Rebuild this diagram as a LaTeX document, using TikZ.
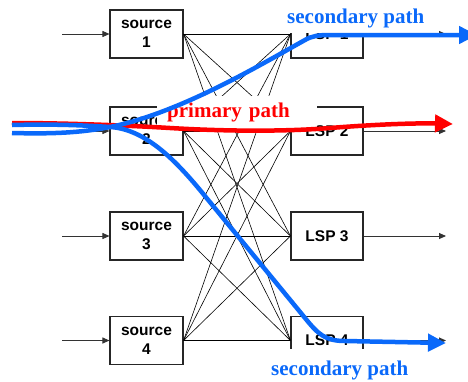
\documentclass[tikz,border=0pt]{standalone}
\usepackage{fontspec}
\setmainfont{Liberation Serif}
\setsansfont{Liberation Sans}
\usetikzlibrary{arrows.meta}
\definecolor{pathblue}{RGB}{10,105,250}
\definecolor{pathred}{RGB}{255,0,0}
\tikzset{
  stagebox/.style={draw=black!85, line width=1.1pt, fill=white, minimum width=73pt, minimum height=48pt, inner sep=0pt, align=center, font=\sffamily\bfseries\fontsize{15.5}{19}\selectfont},
  meshline/.style={draw=black, line width=0.6pt},
  ioarrow/.style={draw=black!80, line width=0.9pt, -{Triangle[length=7pt,width=6pt]}},
  pathlabel/.style={fill=white, font=\bfseries\fontsize{21}{25}\selectfont, text height=14.5pt, text depth=4.5pt, inner xsep=3pt},
  bluepath/.style={draw=pathblue, line width=4.5pt, -{Triangle[length=18pt,width=17pt]}},
  redpath/.style={draw=pathred, line width=4.5pt, -{Triangle[length=18pt,width=17pt]}},
}
\begin{document}
\begin{tikzpicture}[x=1pt,y=-1pt]
\clip (0,0) rectangle (468,381);
\fill[white] (0,0) rectangle (468,381);
% boxes
\node[stagebox] (src1) at (146.5,34) {source\\1};
\node[stagebox] (src2) at (146.5,131) {source\\2};
\node[stagebox] (src3) at (146.5,236) {source\\3};
\node[stagebox] (src4) at (146.5,340.5) {source\\4};
\node[stagebox, minimum width=72pt] (lsp1) at (327,34) {LSP 1};
\node[stagebox, minimum width=72pt] (lsp2) at (327,131) {LSP 2};
\node[stagebox, minimum width=72pt] (lsp3) at (327,236) {LSP 3};
\node[stagebox, minimum width=72pt] (lsp4) at (327,340.5) {LSP 4};
% mesh
\foreach \i in {1,2,3,4}{
  \foreach \j in {1,2,3,4}{
    \draw[meshline] (src\i.east) -- (lsp\j.west);
  }
}
% inputs and outputs
\foreach \i/\y in {1/34,2/131,3/236,4/340.5}{
  \coordinate (in\i) at (62,\y);
  \coordinate (out\i) at (446,\y);
  \draw[ioarrow] (in\i) -- (src\i.west);
  \draw[ioarrow] (lsp\i.east) -- (out\i);
}
% labels
\node[pathlabel, text=pathblue, anchor=base west, inner ysep=5pt] (lsec1) at (284,23) {secondary path};
\node[pathlabel, text=pathred, anchor=base west, inner xsep=10pt, inner ysep=7pt, text width=140pt, align=left] (lprim) at (157,117) {primary path};
\node[pathlabel, text=pathblue, anchor=base west, inner ysep=12pt] (lsec2) at (268,375) {secondary path};
% coloured paths
\coordinate (rs) at (12,123);
\coordinate (re) at (453,124);
\coordinate (bs1) at (12,133);
\coordinate (be1) at (477,35);
\coordinate (bs2) at (12,125);
\coordinate (be2) at (446,343);
\draw[redpath] (rs) .. controls (60,123) and (120,125) .. (170,128)
  .. controls (220,131) and (280,132) .. (330,128)
  .. controls (380,124) and (420,123) .. (re);
\draw[bluepath] (bs1) .. controls (50,134) and (80,133) .. (110,127)
  .. controls (180,113) and (260,65) .. (305,40)
  .. controls (312,36) and (318,35) .. (330,35) -- (be1);
\draw[bluepath] (bs2) .. controls (50,124) and (80,125) .. (110,127)
  .. controls (145,129) and (175,160) .. (200,190)
  -- (305,318) .. controls (318,334) and (325,341) .. (345,341) -- (be2);
\end{tikzpicture}
\end{document}
